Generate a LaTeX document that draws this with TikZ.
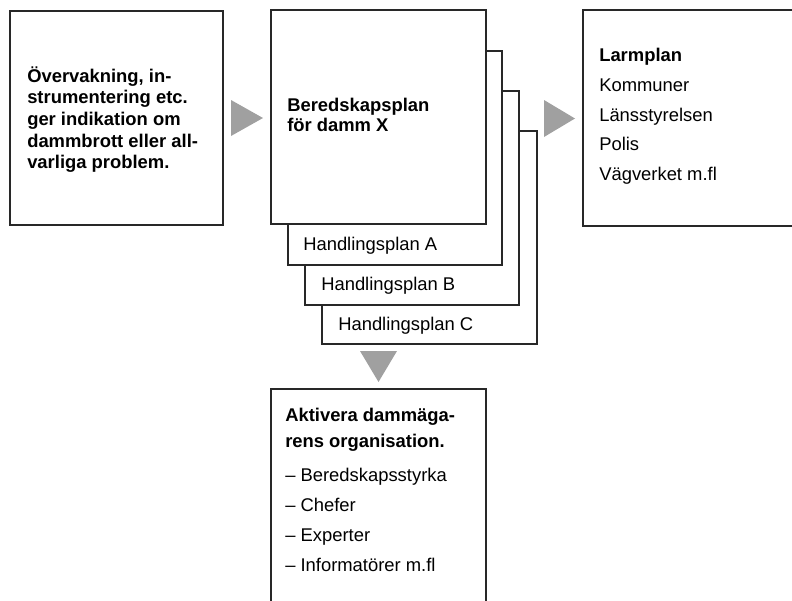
\documentclass[tikz,border=0pt]{standalone}
\usepackage{fontspec}
\setmainfont{Liberation Sans}
\definecolor{edge}{RGB}{40,40,40}
\definecolor{arrowgray}{RGB}{160,160,160}
\begin{document}
\begin{tikzpicture}[x=0.75pt,y=-0.75pt,
  box/.style={draw=edge,line width=0.8pt,fill=white},
  tx/.style={anchor=base west,inner sep=0pt,font=\fontsize{13.8}{16}\selectfont},
  txb/.style={tx,font=\fontsize{13.8}{16}\selectfont\bfseries},
  tri/.style={fill=arrowgray,draw=none}]
\useasboundingbox (0,0) rectangle (792,600);
% box 1
\path[box] (10,11) rectangle (223,225);
\node[txb] (o1) at (27,82) {Övervakning, in-};
\node[txb] (o2) at (27,103.7) {strumentering etc.};
\node[txb] (o3) at (27,125.4) {ger indikation om};
\node[txb] (o4) at (27,147.1) {dammbrott eller all-};
\node[txb] (o5) at (27,168.8) {varliga problem.};
% arrow 1
\path[tri] (231,100) -- (231,136) -- (263,118) -- cycle;
% stacked plans
\path[box] (322,131) rectangle (537,344);
\path[box] (305,91) rectangle (519,305);
\path[box] (288,51) rectangle (502,265);
\path[box] (271,10) rectangle (486,224);
\node[txb] (b1) at (287,111.7) {Beredskapsplan};
\node[txb] (b2) at (287,131.7) {för damm X};
\node[tx] (hA) at (303,250.7) {Handlingsplan A};
\node[tx] (hB) at (321,290) {Handlingsplan B};
\node[tx] (hC) at (338,330) {Handlingsplan C};
% arrow 2
\path[tri] (544,100) -- (544,137) -- (575,118.5) -- cycle;
% box 3
\path[box] (583,10) rectangle (798,226);
\node[txb] (l1) at (599,61.7) {Larmplan};
\node[tx] (l2) at (599,91.3) {Kommuner};
\node[tx] (l3) at (599,121) {Länsstyrelsen};
\node[tx] (l4) at (599,150.6) {Polis};
\node[tx] (l5) at (599,180.2) {Vägverket m.fl};
% arrow 3
\path[tri] (360,351) -- (397,351) -- (378.5,382) -- cycle;
% box 4
\path[box] (271,389) rectangle (486,603);
\node[txb] (a1) at (285,421.7) {Aktivera dammäga-};
\node[txb] (a2) at (285,447.7) {rens organisation.};
\node[tx] (a3) at (285,481.7) {– Beredskapsstyrka};
\node[tx] (a4) at (285,511.5) {– Chefer};
\node[tx] (a5) at (285,541.3) {– Experter};
\node[tx] (a6) at (285,571) {– Informatörer m.fl};
\end{tikzpicture}
\end{document}
